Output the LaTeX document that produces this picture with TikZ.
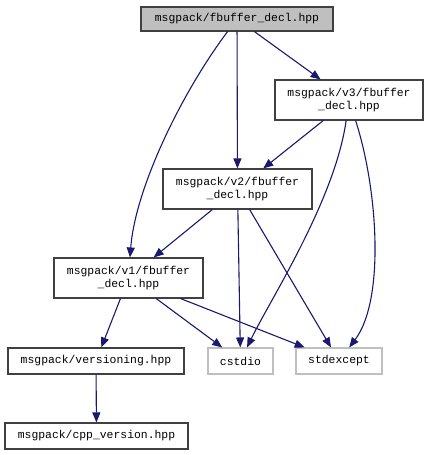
\documentclass[tikz,border=0pt]{standalone}
\usepackage{fontspec}
\setmonofont{Liberation Mono}
\usepackage{tikz}
\usetikzlibrary{arrows.meta,positioning}
\definecolor{edgeblue}{HTML}{191970}
\definecolor{headgray}{HTML}{BFBFBF}
\definecolor{boxline}{HTML}{404040}

\begin{document}
\begin{tikzpicture}[x=1pt,y=-1pt,
    file/.style={draw=boxline,line width=1.1pt,fill=white,inner sep=0pt,align=center,
        font=\ttfamily\fontsize{11.4}{13}\selectfont},
    sysfile/.style={file,draw=headgray},
    edge/.style={draw=edgeblue,line width=1.1pt,-{Triangle[length=10pt,width=8pt]}}]
    % Fix the page to the picture size
    \useasboundingbox (0,0) rectangle (429,455);
    % Header files
    \node[file,fill=headgray,minimum width=192pt,minimum height=24pt] (top) at (237,19) {msgpack/fbuffer\_decl.hpp};
    \node[file,minimum width=148pt,minimum height=40pt] (vthree) at (349,100) {msgpack/v3/fbuffer\\\_decl.hpp};
    \node[file,minimum width=149pt,minimum height=40pt] (vtwo) at (237.5,189) {msgpack/v2/fbuffer\\\_decl.hpp};
    \node[file,minimum width=149pt,minimum height=40pt] (vone) at (128.5,278) {msgpack/v1/fbuffer\\\_decl.hpp};
    \node[file,minimum width=176pt,minimum height=26pt] (versioning) at (96,361) {msgpack/versioning.hpp};
    \node[sysfile,minimum width=65pt,minimum height=26pt] (cstdio) at (240.5,361) {cstdio};
    \node[sysfile,minimum width=86pt,minimum height=26pt] (stdexcept) at (339,361) {stdexcept};
    \node[file,minimum width=183pt,minimum height=26pt] (cppversion) at (96.5,436) {msgpack/cpp\_version.hpp};
    % Include edges
    \draw[edge] (top) -- (vthree);
    \draw[edge] (top) -- (vtwo);
    \draw[edge] (top) .. controls (180,95) and (135,190) .. (vone);
    \draw[edge] (vthree) -- (vtwo);
    \draw[edge] (vthree) .. controls (335,200) and (270,300) .. (cstdio);
    \draw[edge] (vthree) .. controls (378,190) and (385,300) .. (stdexcept);
    \draw[edge] (vtwo) -- (vone);
    \draw[edge] (vtwo) -- (cstdio);
    \draw[edge] (vtwo) -- (stdexcept);
    \draw[edge] (vone) -- (versioning);
    \draw[edge] (vone) -- (cstdio);
    \draw[edge] (vone) -- (stdexcept);
    \draw[edge] (versioning) -- (cppversion);
\end{tikzpicture}
\end{document}
